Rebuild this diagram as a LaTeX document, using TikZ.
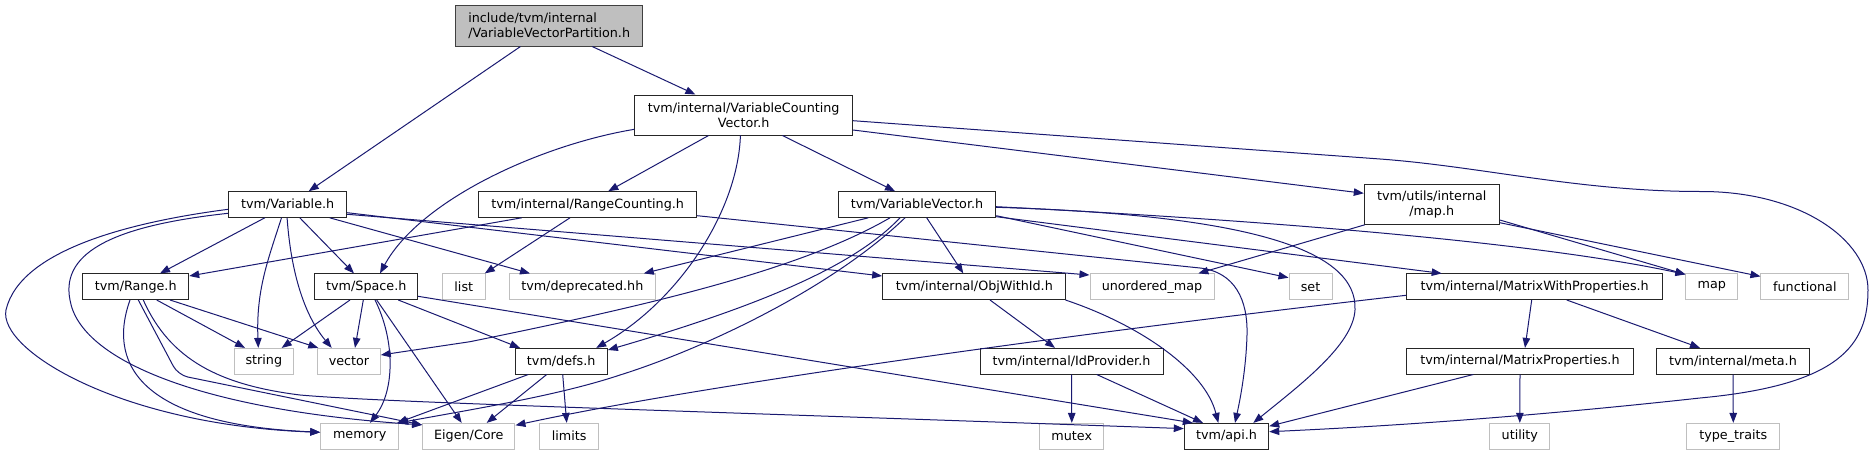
\documentclass[tikz,border=0pt]{standalone}
\usepackage{fontspec}
\setmainfont{DejaVu Sans}
\usetikzlibrary{arrows.meta}
\definecolor{edgeblue}{HTML}{191970}
\definecolor{graybd}{HTML}{BFBFBF}
\definecolor{rootfill}{HTML}{BFBFBF}
\begin{document}
\begin{tikzpicture}[x=1pt,y=-1pt,
  font=\fontsize{12.75}{15.5}\selectfont,
  box/.style={draw=black!85, line width=1pt, fill=white, inner sep=0pt, minimum height=25.6pt, align=center},
  sysbox/.style={draw=graybd, line width=1pt, fill=white, inner sep=0pt, minimum height=25.6pt, align=center},
  rootbox/.style={draw=black!75, line width=1pt, fill=rootfill, inner sep=0pt, align=left},
  edge/.style={draw=edgeblue, line width=1pt, -{Triangle[length=10pt,width=7.5pt]}}]
\useasboundingbox (0,0) rectangle (1875,455);
% nodes
\node[rootbox, minimum width=187pt, minimum height=40.3pt] (root) at (549.2,25.9) {include/tvm/internal\\/VariableVectorPartition.h};
\node[box, minimum width=217.6pt, minimum height=40pt] (vcv) at (743.7,115) {tvm/internal/VariableCounting\\Vector.h};
\node[box, minimum width=118pt] (var) at (287.7,204.5) {tvm/Variable.h};
\node[box, minimum width=218pt] (rc) at (587.7,204.5) {tvm/internal/RangeCounting.h};
\node[box, minimum width=157.4pt] (vv) at (917,204.5) {tvm/VariableVector.h};
\node[box, minimum width=135pt, minimum height=40pt] (umap) at (1431.8,204.3) {tvm/utils/internal\\/map.h};
\node[box, minimum width=106pt] (range) at (135.7,286.7) {tvm/Range.h};
\node[box, minimum width=102.7pt] (space) at (366.3,286.7) {tvm/Space.h};
\node[sysbox, minimum width=43pt] (list) at (463.8,286.7) {list};
\node[sysbox, minimum width=146pt] (depr) at (582.3,286.7) {tvm/deprecated.hh};
\node[box, minimum width=183.3pt] (obj) at (974.3,286.7) {tvm/internal/ObjWithId.h};
\node[sysbox, minimum width=124pt] (unord) at (1152,286.7) {unordered\_map};
\node[sysbox, minimum width=43pt] (set) at (1310.5,286.7) {set};
\node[box, minimum width=256pt] (mwp) at (1534.7,286.7) {tvm/internal/MatrixWithProperties.h};
\node[sysbox, minimum width=51.7pt] (map) at (1711.8,286.7) {map};
\node[sysbox, minimum width=87.7pt] (func) at (1804.8,286.7) {functional};
\node[sysbox, minimum width=59pt] (string) at (263.8,361.2) {string};
\node[sysbox, minimum width=62.6pt] (vector) at (349,361.2) {vector};
\node[box, minimum width=92.3pt] (defs) at (561.2,361.2) {tvm/defs.h};
\node[box, minimum width=183pt] (idp) at (1071.5,361.2) {tvm/internal/IdProvider.h};
\node[box, minimum width=226.6pt] (mp) at (1520,361.2) {tvm/internal/MatrixProperties.h};
\node[box, minimum width=152.6pt] (meta) at (1733,361.2) {tvm/internal/meta.h};
\node[sysbox, minimum width=78pt] (memory) at (359.7,436.2) {memory};
\node[sysbox, minimum width=92.3pt] (eigen) at (468.8,436.2) {Eigen/Core};
\node[sysbox, minimum width=59pt] (limits) at (569.2,436.2) {limits};
\node[sysbox, minimum width=64.3pt] (mutex) at (1071.8,436.2) {mutex};
\node[box, minimum width=84.4pt] (api) at (1226.5,436.2) {tvm/api.h};
\node[sysbox, minimum width=60.3pt] (utility) at (1519.8,436.2) {utility};
\node[sysbox, minimum width=92.7pt] (tt) at (1733.3,436.2) {type\_traits};
% root
\draw[edge] ([xshift=-28.8pt]root.south) -- ([xshift=21pt]var.north);
\draw[edge] ([xshift=43.1pt]root.south) -- ([xshift=-48.3pt]vcv.north);
% vcv
\draw[edge] ([xshift=-35.1pt]vcv.south) -- ([xshift=20.6pt]rc.north);
\draw[edge] ([xshift=38.7pt]vcv.south) -- ([xshift=-22pt]vv.north);
\draw[edge] ([yshift=-14.3pt]vcv.west) .. controls (540,145) and (420,200) .. ([xshift=13.7pt]space.north);
\draw[edge] ([xshift=-3.3pt]vcv.south) .. controls (738,210) and (680,300) .. ([xshift=35pt]defs.north);
\draw[edge] ([yshift=-15pt]vcv.east) -- ([yshift=11pt]umap.west);
\draw[edge] ([yshift=-5.7pt]vcv.east) -- (1380,159) .. controls (1480,166.3) and (1580,191.5) .. (1700,191.5) .. controls (1800,191) and (1868,240) .. (1868,290) .. controls (1868,345) and (1840,385) .. (1700,398) .. controls (1500,420) and (1350,428) .. ([yshift=4.5pt]api.east);
% var
\draw[edge] ([xshift=-22.9pt]var.south) -- ([xshift=24.3pt]range.north);
\draw[edge] ([xshift=12.1pt]var.south) -- ([xshift=-12.3pt]space.north);
\draw[edge] ([xshift=-6.2pt]var.south) .. controls (268,260) and (256,290) .. ([xshift=-5.5pt]string.north);
\draw[edge] ([xshift=-0.6pt]var.south) .. controls (290,260) and (300,310) .. ([xshift=-17.3pt]vector.north);
\draw[edge] ([yshift=-4.8pt]var.west) .. controls (130,222) and (20,250) .. (6,310) .. controls (-2,350) and (120,425) .. ([yshift=3.9pt]memory.west);
\draw[edge] ([yshift=-8.8pt]var.west) .. controls (120,225) and (60,250) .. (70,300) .. controls (80,360) and (200,410) .. ([yshift=-2pt]eigen.north west);
\draw[edge] ([xshift=42pt]var.south) -- ([xshift=-52.3pt]depr.north);
\draw[edge] ([yshift=-8.2pt]var.east) -- ([yshift=10.7pt]obj.west);
\draw[edge] ([yshift=-9.8pt]var.east) -- ([yshift=11.7pt]unord.west);
% rc
\draw[edge] ([xshift=-66pt]rc.south) -- ([yshift=10.7pt]range.east);
\draw[edge] ([xshift=-17.7pt]rc.south) -- ([xshift=-1pt]list.north east);
\draw[edge] ([yshift=-11.2pt]rc.east) -- (1200,268) .. controls (1235,272) and (1248,300) .. (1247,335) .. controls (1246,370) and (1240,400) .. ([xshift=8.5pt]api.north);
% range
\draw[edge] ([xshift=21pt]range.south) -- ([xshift=-18.8pt]string.north);
\draw[edge] ([xshift=34.3pt]range.south) -- ([xshift=-30.7pt]vector.north);
\draw[edge] ([xshift=-5.7pt]range.south) .. controls (105,370) and (150,425) .. ([yshift=4pt]memory.west);
\draw[edge, rounded corners=10pt] ([xshift=2.6pt]range.south) -- (178,375) -- ([yshift=-2pt]eigen.north west);
\draw[edge] ([xshift=7.6pt]range.south) .. controls (170,360) and (220,385) .. (300,395) .. controls (380,402) and (600,408) .. ([yshift=7.6pt]api.west);
% space
\draw[edge] ([xshift=-16.3pt]space.south) -- ([xshift=17.9pt]string.north);
\draw[edge] ([xshift=-3pt]space.south) -- ([xshift=6pt]vector.north);
\draw[edge] ([xshift=8.7pt]space.south) .. controls (395,340) and (395,390) .. ([xshift=10.3pt]memory.north);
\draw[edge] ([xshift=10.4pt]space.south) -- ([xshift=-7.1pt]eigen.north);
\draw[edge] ([xshift=32pt]space.south) -- ([xshift=-41.2pt]defs.north);
\draw[edge] ([yshift=-9.6pt]space.east) -- ([xshift=9pt]api.north west);
% vv
\draw[edge] ([xshift=-48.7pt]vv.south) -- ([xshift=-12pt]depr.north east);
\draw[edge] ([xshift=-27pt]vv.south) .. controls (800,270) and (650,305) .. (470,341.7) -- ([yshift=6.2pt]vector.east);
\draw[edge] ([xshift=-17pt]vv.south) .. controls (860,260) and (780,300) .. ([yshift=11.2pt]defs.east);
\draw[edge] ([xshift=-12pt]vv.south) .. controls (830,290) and (700,350) .. (620,375) .. controls (560,395) and (480,408) .. ([xshift=-1pt]memory.north east);
\draw[edge] ([xshift=9.7pt]vv.south) -- ([xshift=-11pt]obj.north);
\draw[edge] ([yshift=-11.2pt]vv.east) -- ([yshift=9pt]set.west);
\draw[edge] ([yshift=-2.8pt]vv.east) .. controls (1250,215) and (1358,250) .. (1355,310) .. controls (1353,345) and (1300,385) .. ([xshift=26.8pt]api.north);
\draw[edge] ([yshift=-2.2pt]vv.east) .. controls (1300,222) and (1550,245) .. ([yshift=-1pt]map.north west);
\draw[edge] ([yshift=-12.2pt]vv.east) -- ([xshift=-93pt]mwp.north);
% obj, idp
\draw[edge] ([xshift=15.7pt]obj.south) -- ([xshift=-16.5pt]idp.north);
\draw[edge] ([xshift=-1pt]obj.south east) .. controls (1140,325) and (1205,370) .. ([xshift=-8.2pt]api.north);
\draw[edge] (idp.south) -- (mutex.north);
\draw[edge] ([xshift=25.2pt]idp.south) -- ([xshift=-23.5pt]api.north);
% mwp, mp, meta
\draw[edge] ([yshift=-8.6pt]mwp.west) .. controls (1100,330) and (700,385) .. ([yshift=10.9pt]eigen.east);
\draw[edge] ([xshift=-3pt]mwp.south) -- ([xshift=5pt]mp.north);
\draw[edge] ([xshift=32pt]mwp.south) -- ([xshift=-33pt]meta.north);
\draw[edge] ([xshift=-46.7pt]mp.south) -- ([yshift=10pt]api.east);
\draw[edge] (mp.south) -- (utility.north);
\draw[edge] (meta.south) -- (tt.north);
% defs
\draw[edge] ([xshift=-32.9pt]defs.south) -- ([xshift=-2pt]memory.north east);
\draw[edge] ([xshift=-14.5pt]defs.south) -- ([xshift=17.9pt]eigen.north);
\draw[edge] ([xshift=1.5pt]defs.south) -- ([xshift=-2.5pt]limits.north);
% utils map
\draw[edge] ([xshift=1pt]umap.south west) -- ([xshift=46.3pt]unord.north);
\draw[edge] ([yshift=-15.7pt]umap.east) -- ([yshift=-1pt]map.north west);
\draw[edge] ([yshift=-18.4pt]umap.east) -- ([yshift=-3pt]func.north west);
\end{tikzpicture}
\end{document}
